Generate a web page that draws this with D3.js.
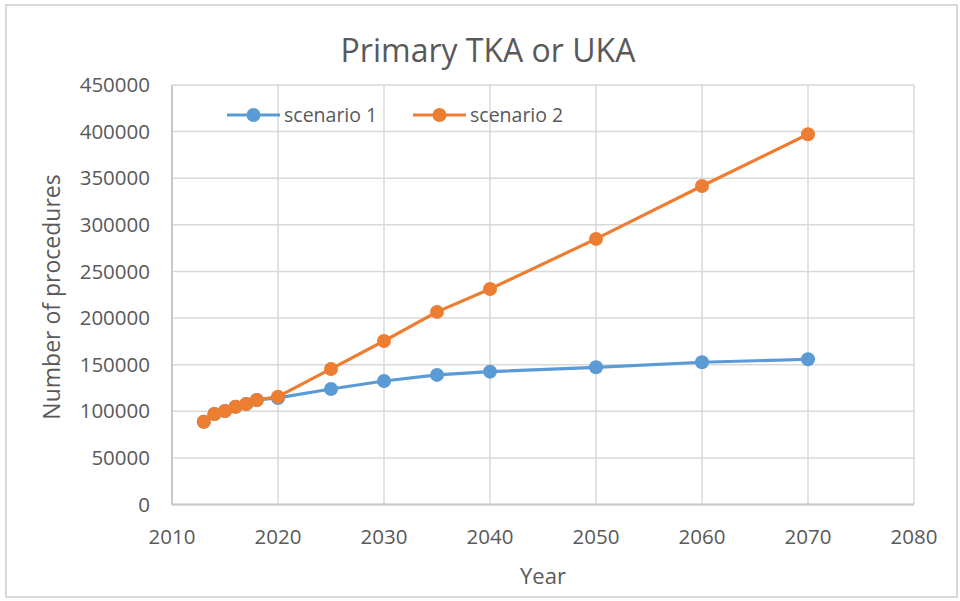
<!DOCTYPE html>
<html>
<head>
<meta charset="utf-8">
<script src="https://cdn.jsdelivr.net/npm/d3@7"></script>
<style>
  body { margin: 0; background: #fff; }
  svg { display: block; font-family: "Open Sans", sans-serif; }
</style>
</head>
<body>
<svg id="chart" width="960" height="601"></svg>
<script>
// data
const years = [2013, 2014, 2015, 2016, 2017, 2018, 2020, 2025, 2030, 2035, 2040, 2050, 2060, 2070];
const scenario1 = [88800, 97100, 100300, 104900, 107800, 112100, 114300, 123900, 132500, 139000, 142500, 147200, 152600, 155800];
const scenario2 = [88800, 97100, 100300, 104900, 107800, 112100, 115700, 145400, 175400, 206600, 231200, 284900, 341700, 397200];
const xTicks = [2010, 2020, 2030, 2040, 2050, 2060, 2070, 2080];
const yTicks = [0, 50000, 100000, 150000, 200000, 250000, 300000, 350000, 400000, 450000];
const seriesNames = ["scenario 1", "scenario 2"];
const colors = ["#5B9BD5", "#ED7D31"];

const svg = d3.select("#chart");

// outer chart border
svg.append("rect")
  .attr("x", 6).attr("y", 5)
  .attr("width", 951).attr("height", 592)
  .attr("fill", "none")
  .attr("stroke", "#d9d9d9")
  .attr("stroke-width", 2);

// plot area edges (pixels)
const plotL = 172, plotR = 914, plotT = 85, plotB = 504.5;

const x = d3.scaleLinear().domain([2010, 2080]).range([plotL, plotR]);
const y = d3.scaleLinear().domain([0, 450000]).range([plotB, plotT]);

// gridlines
svg.append("g").selectAll("line").data(yTicks).enter().append("line")
  .attr("x1", plotL).attr("x2", plotR)
  .attr("y1", d => y(d)).attr("y2", d => y(d))
  .attr("stroke", "#d9d9d9").attr("stroke-width", 1.5);

svg.append("g").selectAll("line").data(xTicks).enter().append("line")
  .attr("x1", d => x(d)).attr("x2", d => x(d))
  .attr("y1", plotT).attr("y2", plotB)
  .attr("stroke", "#d9d9d9").attr("stroke-width", 1.5);

// axis lines a bit darker
svg.append("line")
  .attr("x1", plotL).attr("x2", plotR).attr("y1", plotB).attr("y2", plotB)
  .attr("stroke", "#c8c8c8").attr("stroke-width", 2);
svg.append("line")
  .attr("x1", plotL).attr("x2", plotL).attr("y1", plotT).attr("y2", plotB)
  .attr("stroke", "#c8c8c8").attr("stroke-width", 2);

// tick labels
svg.append("g").selectAll("text").data(yTicks).enter().append("text")
  .attr("x", 150).attr("y", d => y(d))
  .attr("dy", "0.35em")
  .attr("text-anchor", "end")
  .attr("fill", "#595959")
  .style("font-size", "20.5px")
  .text(d => d);

svg.append("g").selectAll("text").data(xTicks).enter().append("text")
  .attr("x", d => x(d)).attr("y", 537)
  .attr("dy", "0.35em")
  .attr("text-anchor", "middle")
  .attr("fill", "#595959")
  .style("font-size", "20.5px")
  .text(d => d);

// lines + markers, scenario 1 underneath
const line = d3.line().x(d => x(d[0])).y(d => y(d[1]));
[scenario1, scenario2].forEach((vals, i) => {
  const pts = years.map((yr, j) => [yr, vals[j]]);
  svg.append("path")
    .datum(pts)
    .attr("d", line)
    .attr("fill", "none")
    .attr("stroke", colors[i])
    .attr("stroke-width", 3.2)
    .attr("stroke-linejoin", "round");
  svg.append("g").selectAll("circle").data(pts).enter().append("circle")
    .attr("cx", d => x(d[0])).attr("cy", d => y(d[1]))
    .attr("r", 7)
    .attr("fill", colors[i]);
});

// legend
const legendX = [227, 413];
seriesNames.forEach((name, i) => {
  const g = svg.append("g").attr("transform", "translate(" + legendX[i] + ",115)");
  g.append("line").attr("x1", 0).attr("x2", 53).attr("y1", 0).attr("y2", 0)
    .attr("stroke", colors[i]).attr("stroke-width", 3.2);
  g.append("circle").attr("cx", 26.5).attr("cy", 0).attr("r", 7).attr("fill", colors[i]);
  g.append("text").attr("x", 57).attr("y", 0).attr("dy", "0.35em")
    .attr("fill", "#595959").style("font-size", "19.5px").text(name);
});

// titles
svg.append("text")
  .attr("x", 488).attr("y", 51).attr("dy", "0.35em")
  .attr("text-anchor", "middle")
  .attr("fill", "#595959")
  .style("font-size", "32px")
  .text("Primary TKA or UKA");

svg.append("text")
  .attr("x", 543).attr("y", 576).attr("dy", "0.35em")
  .attr("text-anchor", "middle")
  .attr("fill", "#595959")
  .style("font-size", "22px")
  .text("Year");

svg.append("text")
  .attr("transform", "translate(52,297) rotate(-90)")
  .attr("dy", "0.35em")
  .attr("text-anchor", "middle")
  .attr("fill", "#595959")
  .style("font-size", "23px")
  .text("Number of procedures");
</script>
</body>
</html>
